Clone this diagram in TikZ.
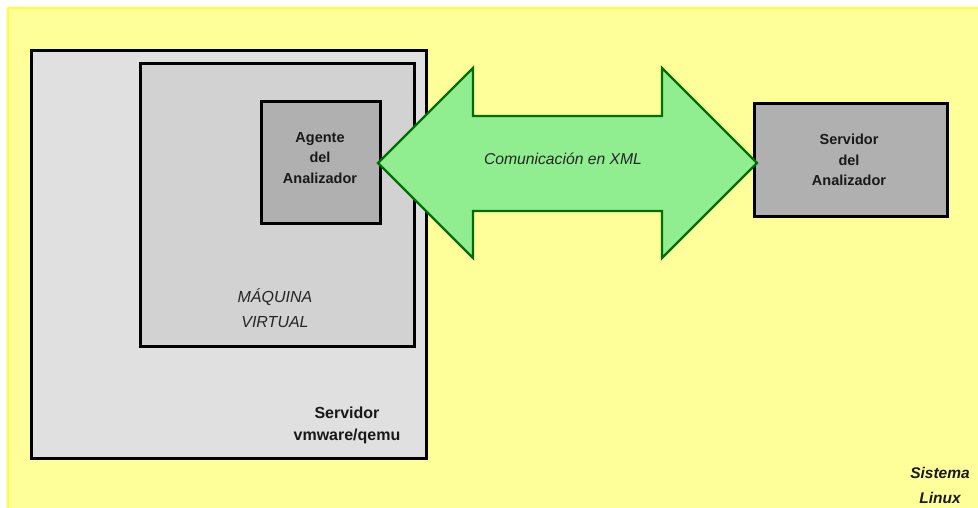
\documentclass[tikz,border=0pt]{standalone}
\usepackage{fontspec}
\setmainfont{Liberation Sans}
\begin{document}
\begin{tikzpicture}[x=1pt,y=-1pt,
  box/.style={draw=black, line width=2.6pt, inner sep=0pt, anchor=north west},
  inlabel/.style={font=\fontsize{14.5}{20.5}\selectfont\bfseries, align=center, text=black!90},
  outlabel/.style={font=\fontsize{16}{22}\selectfont\bfseries, align=center, text=black!90},
  itlabel/.style={font=\fontsize{16}{25}\selectfont\itshape, align=center, text=black!85}]
\definecolor{bgyellow}{HTML}{FFFF99}
\definecolor{bgborder}{HTML}{FFFF33}
\definecolor{outergray}{HTML}{E0E0E0}
\definecolor{vmgray}{HTML}{D2D2D2}
\definecolor{darkgraybox}{HTML}{B0B0B0}
\definecolor{arrowgreen}{HTML}{90EE90}
\definecolor{arrowborder}{HTML}{006E00}
\useasboundingbox (0,0) rectangle (978,508);
\fill[white] (0,0) rectangle (978,508);
\filldraw[fill=bgyellow, draw=bgborder, line width=1.5pt] (8,8) rectangle (990,520);
% boxes
\node[box, fill=outergray, minimum width=395pt, minimum height=408pt] (outer) at (30,49) {};
\node[box, fill=vmgray, minimum width=274pt, minimum height=283pt] (vm) at (139,62) {};
\node[box, fill=darkgraybox, minimum width=119pt, minimum height=122pt] (agent) at (260,100) {};
\node[box, fill=darkgraybox, minimum width=193pt, minimum height=113pt] (server) at (753,102) {};
% labels
\node[inlabel] (agentlbl) at (320,158) {Agente\\del\\Analizador};
\node[inlabel] (serverlbl) at (849,160) {Servidor\\del\\Analizador};
\node[itlabel] (vmlbl) at (275,308) {MÁQUINA\\VIRTUAL};
\node[outlabel] (outerlbl) at (347,425) {Servidor\\vmware/qemu};
\node[font=\fontsize{15.5}{25}\selectfont\bfseries\itshape, align=center, text=black!90] (linuxlbl) at (940,485) {Sistema\\Linux};
% double arrow
\filldraw[fill=arrowgreen, draw=arrowborder, line width=2.4pt, line join=miter]
  (378,163) -- (473,68) -- (473,116) -- (662,116) -- (662,68) -- (757,163)
  -- (662,258) -- (662,211) -- (473,211) -- (473,258) -- cycle;
\node[font=\fontsize{15.7}{19}\selectfont\itshape, text=black!85] (xmllbl) at (563,159) {Comunicación en XML};
\end{tikzpicture}
\end{document}
